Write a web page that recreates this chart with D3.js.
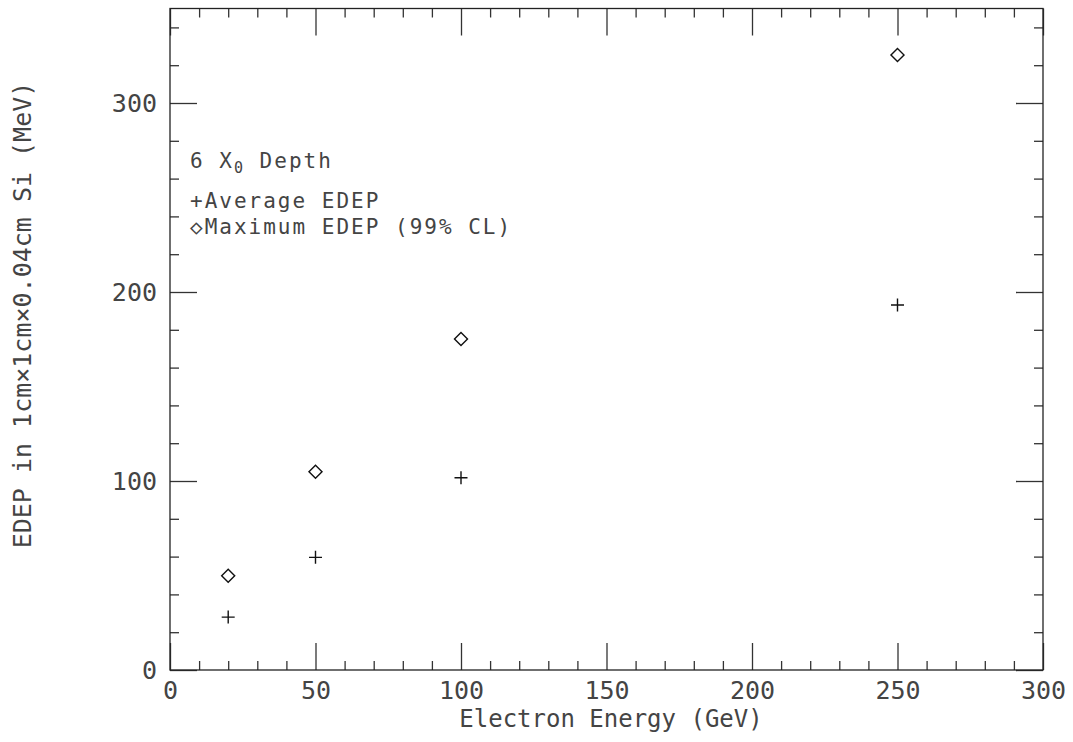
<html>
<head>
<script src="https://d3js.org/d3.v7.min.js"></script>
<style>
body { margin: 0; background: #fff; }
text { font-family: "DejaVu Sans Mono", monospace; fill: #444; }
.axis path, .axis line { stroke: #333; stroke-width: 1.3; }
</style>
</head>
<body>
<svg id="chart" width="1073" height="742"></svg>
<script>
// values
const energies = [20, 50, 100, 250];
const avgEdep = [28, 59.6, 101.7, 193.1];
const maxEdep = [49.9, 104.9, 175.1, 325.4];
const xMajorTicks = [0, 50, 100, 150, 200, 250, 300];
const yMajorTicks = [0, 100, 200, 300];
const xTitle = "Electron Energy (GeV)";
const yTitle = "EDEP in 1cm×1cm×0.04cm Si (MeV)";
const legendLines = ["+Average EDEP", "◇Maximum EDEP (99% CL)"];

const svg = d3.select('svg#chart');
const margins = {top: 8.5, right: 30, bottom: 72, left: 170};
const width = +svg.attr('width');
const height = +svg.attr('height');

const x = d3.scaleLinear().domain([0, 300]).range([margins.left, width - margins.right]);
const y = d3.scaleLinear().domain([0, 350]).range([height - margins.bottom, margins.top]);

const xMinor = d3.range(0, 301, 10).filter(v => v % 50 != 0);
const yMinor = d3.range(0, 351, 20).filter(v => v % 100 != 0);
const major = 27, minor = 9;

// bottom axis (labels)
svg.append('g').attr('class', 'axis')
    .attr('transform', `translate(0,${y(0)})`)
    .call(d3.axisBottom(x).tickValues(xMajorTicks).tickSize(-major).tickSizeOuter(0).tickPadding(11))
    .selectAll('text').attr('font-size', 25).attr('fill', '#444');
svg.append('g').attr('class', 'axis')
    .attr('transform', `translate(0,${y(0)})`)
    .call(d3.axisBottom(x).tickValues(xMinor).tickSize(-minor).tickSizeOuter(0).tickFormat(''));

// top axis
svg.append('g').attr('class', 'axis')
    .attr('transform', `translate(0,${y(350)})`)
    .call(d3.axisTop(x).tickValues(xMajorTicks).tickSize(-major).tickSizeOuter(0).tickFormat(''));
svg.append('g').attr('class', 'axis')
    .attr('transform', `translate(0,${y(350)})`)
    .call(d3.axisTop(x).tickValues(xMinor).tickSize(-minor).tickSizeOuter(0).tickFormat(''));

// left axis (labels)
svg.append('g').attr('class', 'axis')
    .attr('transform', `translate(${x(0)},0)`)
    .call(d3.axisLeft(y).tickValues(yMajorTicks).tickSize(-major).tickSizeOuter(0).tickPadding(13))
    .selectAll('text').attr('font-size', 25).attr('fill', '#444');
svg.append('g').attr('class', 'axis')
    .attr('transform', `translate(${x(0)},0)`)
    .call(d3.axisLeft(y).tickValues(yMinor).tickSize(-minor).tickSizeOuter(0).tickFormat(''));

// right axis
svg.append('g').attr('class', 'axis')
    .attr('transform', `translate(${x(300)},0)`)
    .call(d3.axisRight(y).tickValues(yMajorTicks).tickSize(-major).tickSizeOuter(0).tickFormat(''));
svg.append('g').attr('class', 'axis')
    .attr('transform', `translate(${x(300)},0)`)
    .call(d3.axisRight(y).tickValues(yMinor).tickSize(-minor).tickSizeOuter(0).tickFormat(''));

svg.selectAll('.axis .domain').remove();
svg.append('rect')
    .attr('x', x(0)).attr('y', y(350))
    .attr('width', x(300) - x(0)).attr('height', y(0) - y(350))
    .attr('fill', 'none').attr('stroke', '#222').attr('stroke-width', 1.3);

// data markers
const plot = svg.append('g');
energies.forEach((e, i) => {
    let px = x(e), py = y(avgEdep[i]);
    plot.append('path')
        .attr('d', `M${px - 6.5},${py}h13M${px},${py - 6.5}v13`)
        .attr('stroke', '#111').attr('stroke-width', 1.4).attr('fill', 'none');
    plot.append('path')
        .attr('transform', `translate(${x(e)},${y(maxEdep[i])}) rotate(45)`)
        .attr('d', d3.symbol(d3.symbolSquare, 85)())
        .attr('stroke', '#111').attr('stroke-width', 1.4).attr('fill', 'none');
});

// legend text
const legend = svg.append('g').attr('font-size', 21).style('letter-spacing', '2px');
let t0 = legend.append('text').attr('x', 190).attr('y', 168);
t0.append('tspan').text('6 X');
t0.append('tspan').attr('font-size', 15).attr('dy', 5).text('0');
t0.append('tspan').attr('dy', -5).text(' Depth');
legendLines.forEach((s, i) => {
    legend.append('text').attr('x', 190).attr('y', 208 + i * 26).text(s);
});

// axis titles
svg.append('text')
    .attr('x', 611).attr('y', 727)
    .attr('text-anchor', 'middle').attr('font-size', 24)
    .text(xTitle);
svg.append('text')
    .attr('transform', 'translate(31,315) rotate(-90)')
    .attr('text-anchor', 'middle').attr('font-size', 25)
    .text(yTitle);
</script>
</body>
</html>
